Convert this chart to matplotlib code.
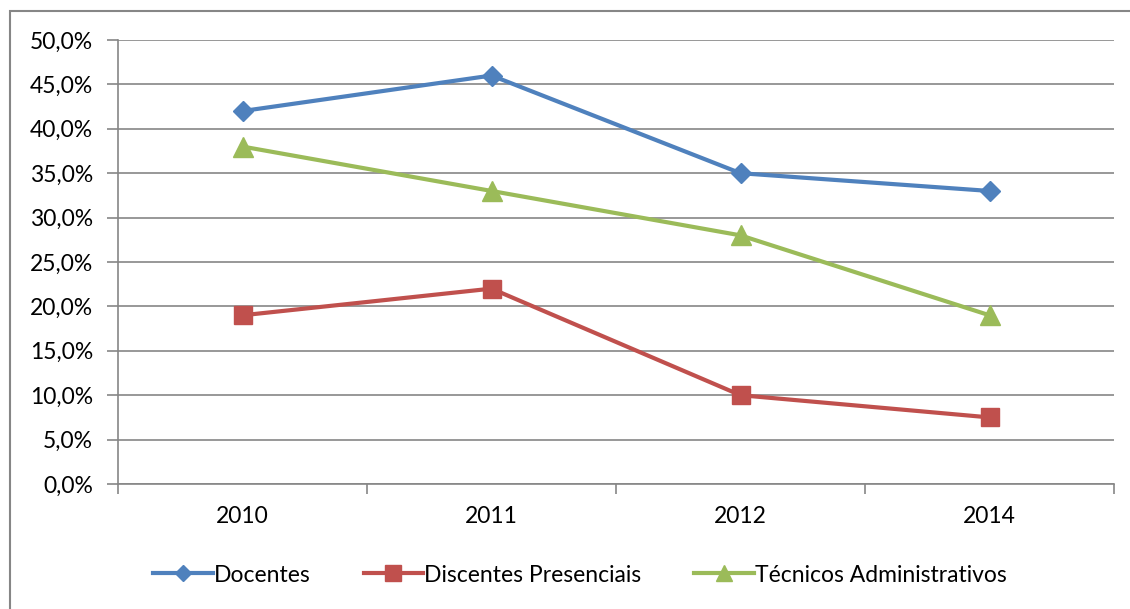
import matplotlib
matplotlib.use('Agg')
import matplotlib.pyplot as plt
import numpy as np
from matplotlib.ticker import FuncFormatter, FixedLocator
from matplotlib.patches import Rectangle

## data
years = ['2010', '2011', '2012', '2014']
docentes = [42.0, 46.0, 35.0, 33.0]
discentes = [19.0, 22.0, 10.0, 7.5]
tecnicos = [38.0, 33.0, 28.0, 19.0]

plt.rcParams['font.family'] = ['Lato', 'DejaVu Sans']

fig = plt.figure(figsize=(11.3, 6.09), dpi=100)
ax = fig.add_axes([118/1130, 1-484/609, (1114-118)/1130, (484-40)/609])

# outer chart border (Excel style)
fig.patches.append(Rectangle((10/1130, -0.1), 1.2, 1-11/609+0.1, transform=fig.transFigure,
                             fill=False, edgecolor='#868686', linewidth=1.5))

x = np.arange(len(years))
ax.plot(x, docentes, color='#4F81BD', lw=3, marker='D', ms=10, label='Docentes')
ax.plot(x, discentes, color='#C0504D', lw=3, marker='s', ms=13, label='Discentes Presenciais')
ax.plot(x, tecnicos, color='#9BBB59', lw=3, marker='^', ms=14, label='Técnicos Administrativos')

ax.set_xlim(-0.5, len(years)-0.5)
ax.set_ylim(0, 50)
ax.set_yticks(np.arange(0, 51, 5))
ax.yaxis.set_major_formatter(FuncFormatter(lambda v, p: ('%.1f%%' % v).replace('.', ',')))
ax.grid(axis='y', color='#868686', lw=1.2)
ax.set_axisbelow(True)

ax.set_xticks(x)
ax.set_xticklabels(years)
ax.xaxis.set_minor_locator(FixedLocator(np.arange(-0.5, len(years), 1)))
ax.tick_params(axis='x', which='major', length=0, pad=16, labelsize=16.5)
ax.tick_params(axis='x', which='minor', length=7, color='#868686', width=1.2)
ax.tick_params(axis='y', length=8, color='#868686', width=1.2, labelsize=16.5, pad=10)

for s in ['top', 'right']:
    ax.spines[s].set_visible(False)
for s in ['left', 'bottom']:
    ax.spines[s].set_color('#868686')
    ax.spines[s].set_linewidth(1.2)

fig.legend(*ax.get_legend_handles_labels(), loc='center', bbox_to_anchor=(580/1130, 1-575/609),
           ncol=3, frameon=False, fontsize=16.5,
           handlelength=2.6, handletextpad=0.05, columnspacing=2.3, markerscale=0.85)

fig.savefig('out.png', dpi=100)
